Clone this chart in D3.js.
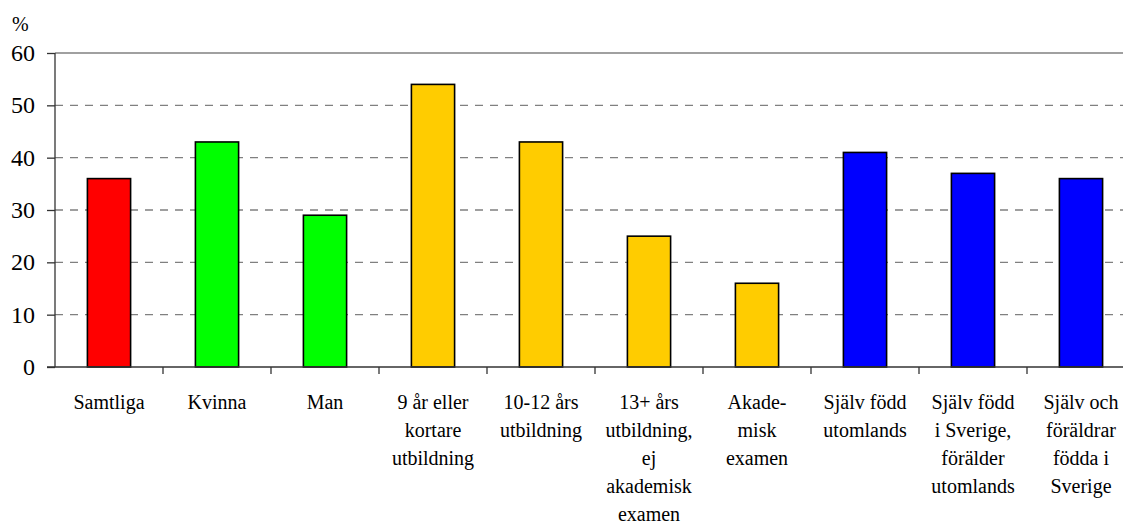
<!DOCTYPE html>
<html>
<head>
<meta charset="UTF-8">
<title>Andel per grupp</title>
<script src="https://d3js.org/d3.v7.min.js"></script>
</head>
<body style="margin:0">
<svg width="1123" height="527"></svg>
<script>
// data
const categories = ["Samtliga", "Kvinna", "Man", "9 år eller kortare utbildning",
  "10-12 års utbildning", "13+ års utbildning, ej akademisk examen", "Akademisk examen",
  "Själv född utomlands", "Själv född i Sverige, förälder utomlands", "Själv och föräldrar födda i Sverige"];
const labelLines = [
  ["Samtliga"], ["Kvinna"], ["Man"],
  ["9 år eller", "kortare", "utbildning"],
  ["10-12 års", "utbildning"],
  ["13+ års", "utbildning,", "ej", "akademisk", "examen"],
  ["Akade-", "misk", "examen"],
  ["Själv född", "utomlands"],
  ["Själv född", "i Sverige,", "förälder", "utomlands"],
  ["Själv och", "föräldrar", "födda i", "Sverige"]
];
const values = [36, 43, 29, 54, 43, 25, 16, 41, 37, 36];
const groups = ["all", "kon", "kon", "utb", "utb", "utb", "utb", "urs", "urs", "urs"];
const groupColors = { all: "#ff0000", kon: "#00ff00", utb: "#ffcc00", urs: "#0000ff" };
const yTicks = [0, 10, 20, 30, 40, 50, 60];

const svg = d3.select("svg");
const mLeft = 55, mTop = 53, mBottom = 367;
const step = 108;

const x = d3.scaleBand().domain(categories)
  .range([mLeft, mLeft + step * categories.length])
  .paddingInner(0.6).paddingOuter(0.3);
const xs = d3.scaleBand().domain(categories).range([mLeft, mLeft + step * categories.length]);
const y = d3.scaleLinear().domain([0, 60]).range([mBottom, mTop]);

// gridlines
svg.append("g").selectAll("line")
  .data(yTicks.filter(d => d > 0)).enter().append("line")
  .attr("x1", mLeft).attr("x2", 1123)
  .attr("y1", d => y(d)).attr("y2", d => y(d))
  .attr("stroke", "#808080").attr("stroke-width", 1.3)
  .attr("stroke-dasharray", d => d === 60 ? null : "8,7");

// bars
svg.append("g").selectAll("rect")
  .data(values).enter().append("rect")
  .attr("x", (d, i) => x(categories[i]))
  .attr("width", x.bandwidth())
  .attr("y", d => y(d))
  .attr("height", d => y(0) - y(d))
  .attr("fill", (d, i) => groupColors[groups[i]])
  .attr("stroke", "#000").attr("stroke-width", 1.6);

// y axis: lines only, labels drawn separately below
const yAxis = svg.append("g").attr("transform", `translate(${mLeft},0)`)
  .call(d3.axisLeft(y).tickValues(yTicks).tickSize(8).tickFormat(""));
yAxis.select(".domain").attr("stroke", "#333").attr("stroke-width", 1.3).attr("d", `M0,${mTop}V${mBottom}`);
yAxis.selectAll(".tick line").attr("stroke", "#333").attr("stroke-width", 1.3);

svg.append("g").selectAll("text")
  .data(yTicks).enter().append("text")
  .attr("x", mLeft - 20).attr("y", d => y(d) + 8)
  .attr("text-anchor", "end").attr("font-size", 24)
  .style("font-family", d => `"Liberation Serif"`)
  .text(d => d);

svg.append("text").attr("x", 12).attr("y", 31).attr("font-size", 20)
  .style("font-family", d => `"Liberation Serif"`).text("%");

// x axis
svg.append("line").attr("x1", mLeft - 8).attr("x2", 1123)
  .attr("y1", mBottom).attr("y2", mBottom)
  .attr("stroke", "#333").attr("stroke-width", 1.3);
svg.append("g").selectAll("line")
  .data(categories.slice(1)).enter().append("line")
  .attr("x1", d => xs(d)).attr("x2", d => xs(d))
  .attr("y1", mBottom).attr("y2", mBottom + 7)
  .attr("stroke", "#333").attr("stroke-width", 1.3);

// category labels, one text per line
const lines = [];
labelLines.forEach((ls, i) => ls.forEach((t, j) => lines.push({ cat: categories[i], t, j })));
svg.append("g").selectAll("text")
  .data(lines).enter().append("text")
  .attr("text-anchor", "middle").attr("font-size", 20)
  .style("font-family", d => `"Liberation Serif"`)
  .attr("x", d => xs(d.cat) + xs.bandwidth() / 2)
  .attr("y", d => 409 + d.j * 28)
  .text(d => d.t);
</script>
</body>
</html>
